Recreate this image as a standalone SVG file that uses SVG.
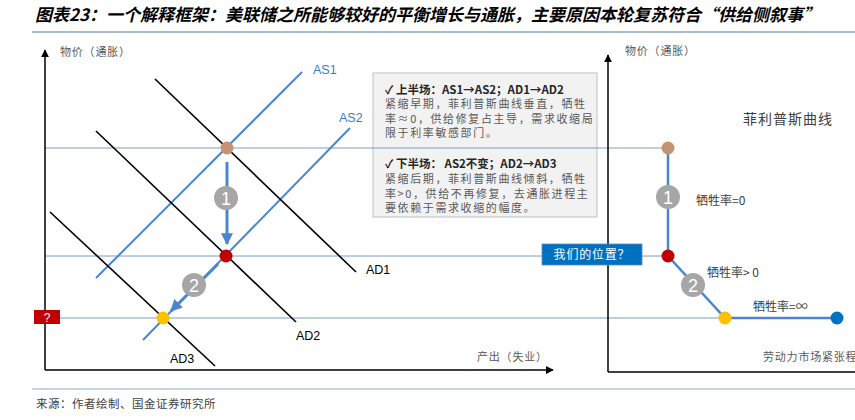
<svg xmlns="http://www.w3.org/2000/svg" width="855" height="420" viewBox="0 0 855 420">
<style>
.cjk{font-family:"Noto Sans CJK SC","Liberation Sans",sans-serif}
.lat{font-family:"Liberation Sans","Noto Sans CJK SC",sans-serif}
.ax{fill:#595959;font-size:11px;letter-spacing:0.8px}
.blue{stroke:#4A86CF;stroke-width:2;fill:none}
.black{stroke:#000;stroke-width:1.6;fill:none}
.grid{stroke:#7F9DC4;stroke-width:1;fill:none}
.axis{stroke:#000;stroke-width:1.5;fill:none}
.step{fill:#A6A6A6}
.stepT{fill:#fff;font-size:18px;text-anchor:middle}
.lbl{font-size:12.5px;fill:#000}
.lblB{font-size:12.5px;fill:#3A7BC8}
.body{font-size:11px;fill:#595959;letter-spacing:1.6px}
.head{font-size:11.5px;fill:#262626;font-weight:bold}
.sr{font-size:12px;fill:#404040}
</style>
<defs>
<marker id="ah" viewBox="0 0 10 10" refX="9" refY="5" markerWidth="8" markerHeight="8" markerUnits="userSpaceOnUse" orient="auto"><path d="M0,0 L10,5 L0,10 z" fill="#000"/></marker>
<marker id="bh" viewBox="0 0 10 10" refX="9" refY="5" markerWidth="4" markerHeight="4" orient="auto"><path d="M0,0 L10,5 L0,10 z" fill="#4A86CF"/></marker>
</defs>
<rect width="855" height="420" fill="#fff"/>
<g id="title">
<text class="cjk" x="35" y="21" font-size="17" font-weight="bold" font-style="italic" fill="#000">图表23：一个解释框架：美联储之所能够较好的平衡增长与通胀，主要原因本轮复苏符合“供给侧叙事”</text>
<line x1="32" y1="32" x2="855" y2="32" stroke="#8EA4BD" stroke-width="1.5"/>
</g>
<g id="explain-box">
<rect x="373" y="73" width="224" height="144" fill="#F2F2F2" stroke="#BFBFBF" stroke-width="1"/>
<text class="cjk head" x="385" y="94">✓ 上半场：AS1→AS2；AD1→AD2</text>
<text class="cjk body" x="385" y="108">紧缩早期，菲利普斯曲线垂直，牺牲</text>
<text class="cjk body" x="385" y="123">率≈0，供给修复占主导，需求收缩局</text>
<text class="cjk body" x="385" y="137">限于利率敏感部门。</text>
<text class="cjk head" x="385" y="168">✓ 下半场： AS2不变；AD2→AD3</text>
<text class="cjk body" x="385" y="183">紧缩后期，菲利普斯曲线倾斜，牺牲</text>
<text class="cjk body" x="385" y="198">率&gt;0，供给不再修复，去通胀进程主</text>
<text class="cjk body" x="385" y="212">要依赖于需求收缩的幅度。</text>
</g>
<g id="connectors">
<line class="grid" x1="45" y1="148" x2="668" y2="148"/>
<line class="grid" x1="45" y1="256" x2="668" y2="256"/>
<line class="grid" x1="45" y1="318" x2="725" y2="318" stroke="#9DB5D5"/>
<line class="axis" x1="45" y1="370" x2="45" y2="50" marker-end="url(#ah)"/>
<line class="axis" x1="45" y1="370" x2="553" y2="370" marker-end="url(#ah)"/>
<line class="axis" x1="608" y1="372" x2="608" y2="55" marker-end="url(#ah)"/>
<line class="axis" x1="608" y1="372" x2="855" y2="372"/>
<line class="blue" x1="96" y1="278" x2="302" y2="72"/>
<line class="blue" x1="143" y1="340" x2="350" y2="128"/>
<line class="black" x1="155" y1="79" x2="356" y2="272"/>
<line class="black" x1="96" y1="131" x2="296" y2="322"/>
<line class="black" x1="50" y1="212" x2="215" y2="366"/>
<line x1="227" y1="162" x2="227" y2="244" stroke="#4A86CF" stroke-width="3" marker-end="url(#bh)"/>
<line x1="218" y1="264" x2="171" y2="311" stroke="#4A86CF" stroke-width="3" marker-end="url(#bh)"/>
<polyline points="668,148 668,256 725,318 837,318" fill="none" stroke="#4A86CF" stroke-width="2.5"/>
</g>
<g id="left-labels">
<text class="cjk ax" x="60" y="56">物价（通胀）</text>
<text class="cjk ax" x="477" y="361">产出（失业）</text>
<text class="lat lblB" x="313" y="74">AS1</text>
<text class="lat lblB" x="339" y="122">AS2</text>
<text class="lat lbl" x="366" y="274">AD1</text>
<text class="lat lbl" x="296" y="340">AD2</text>
<text class="lat lbl" x="170" y="363">AD3</text>
</g>
<g id="q-box">
<rect x="34" y="310" width="26" height="14" fill="#C00000"/>
<text class="lat" x="47" y="321.5" font-size="12" fill="#fff" text-anchor="middle">?</text>
</g>
<g id="points">
<circle cx="227" cy="148" r="6.5" fill="#C49371"/>
<circle cx="226" cy="256" r="6.5" fill="#C00000"/>
<circle cx="163" cy="318" r="6.5" fill="#FFC000"/>
<circle cx="668" cy="148" r="6.5" fill="#C49371"/>
<circle cx="668" cy="256" r="6.5" fill="#C00000"/>
<circle cx="725" cy="318" r="6.5" fill="#FFC000"/>
<circle cx="837" cy="318" r="6.5" fill="#0070C0"/>
</g>
<g id="step1-left"><circle class="step" cx="226" cy="198" r="12"/><text class="lat stepT" x="226" y="204.5">1</text></g>
<g id="step2-left"><circle class="step" cx="194" cy="285" r="12"/><text class="lat stepT" x="194" y="291.5">2</text></g>
<g id="step1-right"><circle class="step" cx="668" cy="197" r="12"/><text class="lat stepT" x="668" y="203.5">1</text></g>
<g id="step2-right"><circle class="step" cx="693" cy="285" r="12"/><text class="lat stepT" x="693" y="291.5">2</text></g>
<g id="position-box">
<rect x="542" y="244" width="100" height="21" fill="#0070C0" stroke="#5B8DC0" stroke-width="0.8"/>
<text class="cjk" x="592" y="259" font-size="12" fill="#fff" text-anchor="middle" letter-spacing="0.8">我们的位置？</text>
</g>
<g id="right-labels">
<text class="cjk ax" x="625" y="55">物价（通胀）</text>
<text class="cjk" x="743" y="124" font-size="14" fill="#404040" letter-spacing="1">菲利普斯曲线</text>
<text class="cjk sr" x="696" y="205">牺牲率=0</text>
<text class="cjk sr" x="707" y="277">牺牲率&gt; 0</text>
<text class="cjk sr" x="753" y="311">牺牲率=∞</text>
<text class="cjk ax" x="763" y="361">劳动力市场紧张程度</text>
</g>
<g id="footer">
<line x1="32" y1="389" x2="855" y2="389" stroke="#C5D5E4" stroke-width="2"/>
<text class="cjk" x="36" y="408" font-size="11.5" fill="#404040" letter-spacing="0.5">来源：作者绘制、国金证券研究所</text>
</g>
</svg>
